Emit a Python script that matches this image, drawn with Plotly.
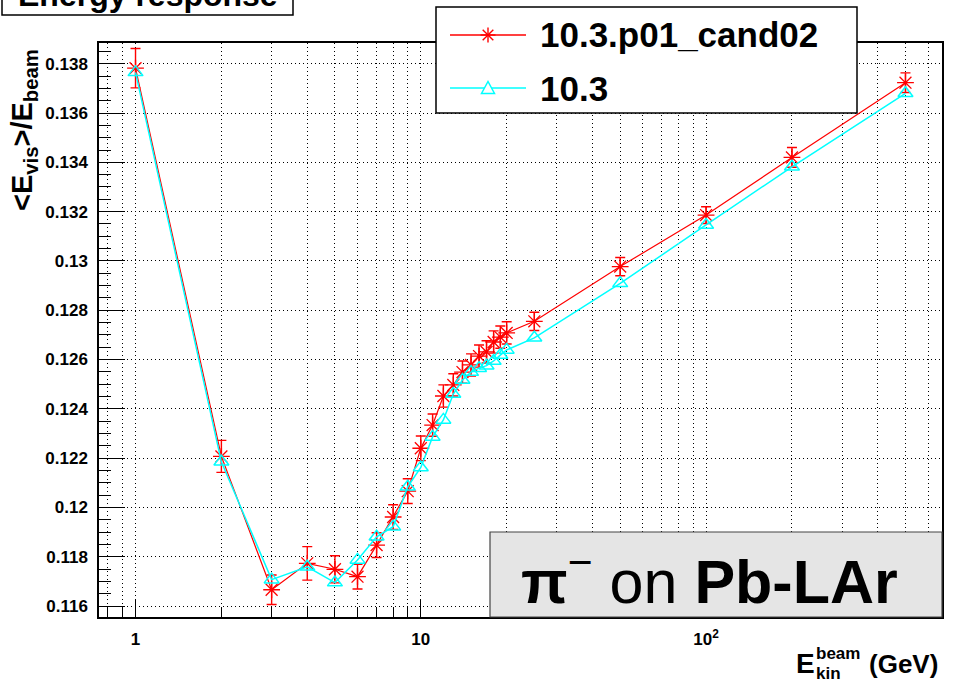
import plotly.graph_objects as go

# Beam kinetic energy (GeV)
energy_gev = [1, 2, 3, 4, 5, 6, 7, 8, 9, 10, 11, 12, 13, 14, 15, 16, 17, 18, 19, 20,
              25, 50, 100, 200, 500]

# <E_vis>/E_beam for the candidate release, with statistical errors
resp_cand02 = [0.13782, 0.12207, 0.11666, 0.11773, 0.11749, 0.11719, 0.11847, 0.11961,
               0.12066, 0.12240, 0.12334, 0.12452, 0.12497, 0.12549, 0.12578, 0.12614,
               0.12631, 0.12671, 0.12691, 0.12708, 0.12755, 0.12977, 0.13186, 0.13420,
               0.13723]
err_cand02 = [0.0008, 0.00065, 0.0006, 0.00068, 0.00055, 0.0005, 0.0005, 0.0005,
              0.0005, 0.0005, 0.00045, 0.00045, 0.00045, 0.00045, 0.00045, 0.00045,
              0.00045, 0.00045, 0.00045, 0.00045, 0.00037, 0.00037, 0.00034, 0.0004,
              0.0004]

# <E_vis>/E_beam for the reference release
resp_ref = [0.13765, 0.12185, 0.11707, 0.11759, 0.11695, 0.11787, 0.11881, 0.11922,
            0.12084, 0.12162, 0.12286, 0.12355, 0.12460, 0.12517, 0.12549, 0.12565,
            0.12575, 0.12594, 0.12618, 0.12639, 0.12688, 0.12909, 0.13146, 0.13382,
            0.13680]

series_names = ["10.3.p01_cand02", "10.3"]

y_tick_vals = [0.116, 0.118, 0.120, 0.122, 0.124, 0.126, 0.128, 0.130, 0.132, 0.134,
               0.136, 0.138]
y_tick_text = ["0.116", "0.118", "0.12", "0.122", "0.124", "0.126", "0.128", "0.13",
               "0.132", "0.134", "0.136", "0.138"]
x_tick_vals = [1, 10, 100]
x_tick_text = ["1", "10", "10<sup>2</sup>"]
x_minor_vals = [0.8, 0.9, 2, 3, 4, 5, 6, 7, 8, 9, 20, 30, 40, 50, 60, 70, 80, 90,
                200, 300, 400, 500, 600]

W, H = 963, 684
L, R, T, B = 99, 942, 43, 617  # plot frame in pixels

RED = "#ff0000"
CYAN = "#00ffff"
FONT = "Liberation Sans"
GRID_DASH = "1px,3px"


def px(x):
    return (x - L) / (R - L)


def py(y):
    return (B - y) / (B - T)


fig = go.Figure()

fig.add_trace(go.Scatter(
    x=energy_gev, y=resp_cand02, name=series_names[0], mode="lines+markers",
    line=dict(color=RED, width=1.2),
    marker=dict(symbol="asterisk-open", size=14, color=RED, line=dict(color=RED, width=1.3)),
    error_y=dict(type="data", array=err_cand02, visible=True, color=RED,
                 thickness=1.4, width=5),
    showlegend=False,
))
fig.add_trace(go.Scatter(
    x=energy_gev, y=resp_ref, name=series_names[1], mode="lines+markers",
    line=dict(color=CYAN, width=1.5),
    marker=dict(symbol="triangle-up-open", size=13, color=CYAN,
                line=dict(color=CYAN, width=1.5)),
    showlegend=False,
))


def seg(x0, y0, x1, y1, color, width=1.3):
    return dict(type="line", xref="paper", yref="paper", x0=px(x0), y0=py(y0),
                x1=px(x1), y1=py(y1), line=dict(color=color, width=width), layer="above")


shapes = [
    # title box
    dict(type="rect", xref="paper", yref="paper", x0=px(2), x1=px(293), y0=py(15), y1=py(-10),
         line=dict(color="black", width=1.5), fillcolor="white", layer="above"),
    # legend box
    dict(type="rect", xref="paper", yref="paper", x0=px(436), x1=px(857), y0=py(113), y1=py(7),
         line=dict(color="black", width=1.5), fillcolor="white", layer="above"),
    # label box
    dict(type="rect", xref="paper", yref="paper", x0=px(490), x1=px(942), y0=py(617), y1=py(532),
         line=dict(color="#444444", width=1.2), fillcolor="#e5e5e5", layer="above"),
]

# legend glyphs: line sample with an asterisk / open triangle in the middle
lx0, lxm, lx1 = 450, 488, 526
ly_red, ly_cyan = 35, 88
shapes.append(seg(lx0, ly_red, lx1, ly_red, RED))
a, d = 7.5, 5.3
shapes += [
    seg(lxm - a, ly_red, lxm + a, ly_red, RED, 1.4),
    seg(lxm, ly_red - a, lxm, ly_red + a, RED, 1.4),
    seg(lxm - d, ly_red - d, lxm + d, ly_red + d, RED, 1.4),
    seg(lxm - d, ly_red + d, lxm + d, ly_red - d, RED, 1.4),
]
shapes.append(seg(lx0, ly_cyan, lx1, ly_cyan, CYAN, 1.5))
tri = [(lxm - 6.5, ly_cyan + 5.5), (lxm + 6.5, ly_cyan + 5.5), (lxm, ly_cyan - 6.5)]
shapes.append(dict(
    type="path", xref="paper", yref="paper", layer="above",
    path="M {} {} L {} {} L {} {} Z".format(*(v for p in tri for v in (px(p[0]), py(p[1])))),
    line=dict(color=CYAN, width=1.5), fillcolor="white",
))

annotations = [
    dict(text="<b>Energy response</b>", xref="paper", yref="paper", x=px(148), y=py(-5),
         xanchor="center", yanchor="middle", showarrow=False,
         font=dict(family=FONT, size=32, color="black")),
    dict(text="<b>" + series_names[0] + "</b>", xref="paper", yref="paper", x=px(538), y=py(35),
         xanchor="left", yanchor="middle", showarrow=False,
         font=dict(family=FONT, size=35, color="black")),
    dict(text="<b>" + series_names[1] + "</b>", xref="paper", yref="paper", x=px(538), y=py(88),
         xanchor="left", yanchor="middle", showarrow=False,
         font=dict(family=FONT, size=35, color="black")),
    dict(text="<b>π</b><sup>−</sup> on <b>Pb-LAr</b>", xref="paper", yref="paper",
         x=px(709), y=py(577), xanchor="center", yanchor="middle", showarrow=False,
         font=dict(family=FONT, size=61, color="black")),
    # y-axis title
    dict(text="<b>&lt;E<sub>vis</sub>&gt;/E<sub>beam</sub></b>", xref="paper", yref="paper",
         x=px(24), y=py(130), xanchor="center", yanchor="middle", textangle=-90,
         showarrow=False, font=dict(family=FONT, size=29, color="black")),
    # x-axis title pieces
    dict(text="<b>E</b>", xref="paper", yref="paper", x=px(805), y=py(664),
         xanchor="center", yanchor="middle", showarrow=False,
         font=dict(family=FONT, size=28, color="black")),
    dict(text="<b>beam</b>", xref="paper", yref="paper", x=px(814), y=py(653),
         xanchor="left", yanchor="middle", showarrow=False,
         font=dict(family=FONT, size=17, color="black")),
    dict(text="<b>kin</b>", xref="paper", yref="paper", x=px(814), y=py(673),
         xanchor="left", yanchor="middle", showarrow=False,
         font=dict(family=FONT, size=17, color="black")),
    dict(text="<b>(GeV)</b>", xref="paper", yref="paper", x=px(867), y=py(664),
         xanchor="left", yanchor="middle", showarrow=False,
         font=dict(family=FONT, size=26, color="black")),
]

tickfont = dict(family=FONT, size=17, color="black", weight="bold")

fig.update_layout(
    width=W, height=H,
    margin=dict(l=L, r=W - R, t=T, b=H - B, pad=0),
    paper_bgcolor="white", plot_bgcolor="white",
    showlegend=False,
    shapes=shapes, annotations=annotations,
    xaxis=dict(
        type="log", range=[-0.128, 2.827],
        tickmode="array", tickvals=x_tick_vals, ticktext=x_tick_text,
        ticks="inside", ticklen=18, tickwidth=1.3, tickcolor="black",
        tickfont=tickfont, ticklabelstandoff=6,
        showgrid=True, gridcolor="black", gridwidth=1, griddash=GRID_DASH,
        minor=dict(tickmode="array", tickvals=x_minor_vals, ticks="inside", ticklen=9,
                   tickwidth=1.2, tickcolor="black", showgrid=True, gridcolor="black",
                   gridwidth=1, griddash=GRID_DASH),
        showline=True, linecolor="black", linewidth=1.5, mirror=True, zeroline=False,
    ),
    yaxis=dict(
        range=[0.115554, 0.138841],
        tickmode="array", tickvals=y_tick_vals, ticktext=y_tick_text,
        ticks="inside", ticklen=26, tickwidth=1.3, tickcolor="black",
        tickfont=tickfont, ticklabelstandoff=6,
        showgrid=True, gridcolor="black", gridwidth=1, griddash=GRID_DASH,
        minor=dict(dtick=0.0005, tick0=0.116, ticks="inside", ticklen=12, tickwidth=1.2,
                   tickcolor="black", showgrid=False),
        showline=True, linecolor="black", linewidth=1.5, mirror=True, zeroline=False,
    ),
)

fig.write_html("out.html")
